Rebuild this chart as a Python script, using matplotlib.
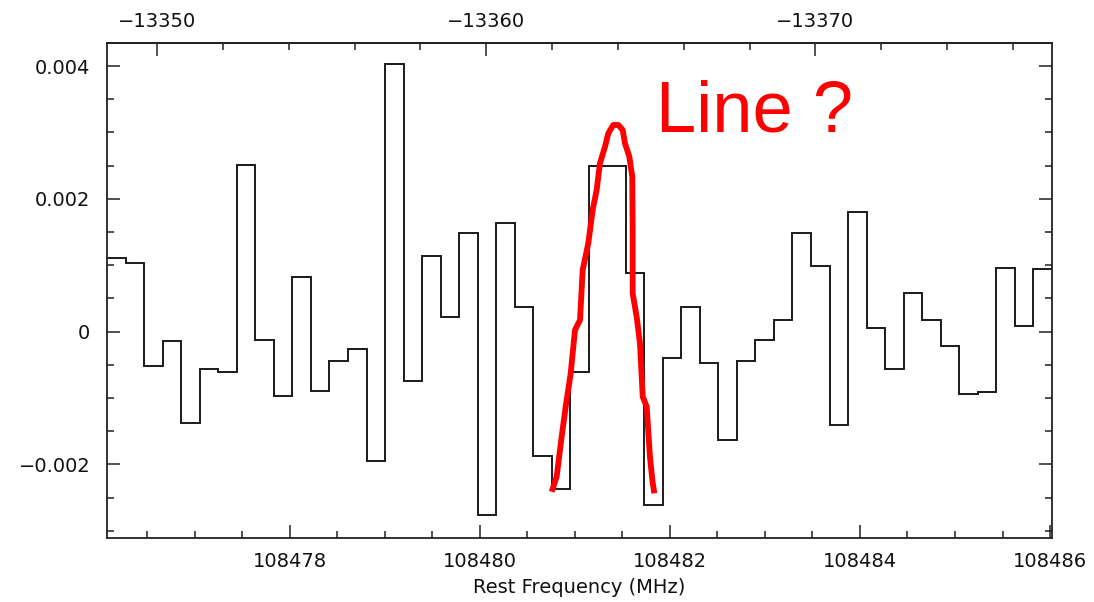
import numpy as np
import matplotlib
matplotlib.use("Agg")
import matplotlib.pyplot as plt
from matplotlib.ticker import MultipleLocator, FuncFormatter, FixedLocator

# ---- data ----
channel_freq = [108476.173, 108476.368, 108476.563, 108476.758, 108476.953,
                108477.148, 108477.343, 108477.538, 108477.733, 108477.928,
                108478.123, 108478.318, 108478.513, 108478.708, 108478.903,
                108479.098, 108479.293, 108479.487, 108479.682, 108479.877,
                108480.072, 108480.267, 108480.462, 108480.657, 108480.852,
                108481.047, 108481.242, 108481.437, 108481.632, 108481.827,
                108482.022, 108482.217, 108482.412, 108482.607, 108482.802,
                108482.997, 108483.192, 108483.387, 108483.582, 108483.777,
                108483.972, 108484.167, 108484.362, 108484.557, 108484.752,
                108484.947, 108485.142, 108485.337, 108485.532, 108485.727,
                108485.922]
channel_flux = [0.001114, 0.001039, -0.000517, -0.000145, -0.001380,
                -0.000566, -0.000611, 0.002515, -0.000125, -0.000964,
                0.000819, -0.000889, -0.000441, -0.000265, -0.001952,
                0.004032, -0.000738, 0.001140, 0.000226, 0.001486,
                -0.002765, 0.001637, 0.000377, -0.001872, -0.002369,
                -0.000611, 0.002495, 0.002495, 0.000889, -0.002610,
                -0.000401, 0.000377, -0.000467, -0.001631, -0.000441,
                -0.000125, 0.000176, 0.001486, 0.000989, -0.001410,
                0.001803, 0.000051, -0.000566, 0.000587, 0.000176,
                -0.000215, -0.000938, -0.000904, 0.000964, 0.000086,
                0.000944]

# hand-drawn red "line" sketch
sketch_freq = [480.755, 480.807, 480.860, 480.902, 480.955, 481.000, 481.053,
               481.081, 481.140, 481.186, 481.228, 481.263, 481.316, 481.351,
               481.403, 481.456, 481.502, 481.526, 481.572, 481.603, 481.607,
               481.607, 481.649, 481.684, 481.713, 481.755, 481.789, 481.814,
               481.835]
sketch_flux = [-0.002410, -0.002184, -0.001581, -0.001130, -0.000627, 0.000026,
               0.000176, 0.000929, 0.001331, 0.001833, 0.002134, 0.002536,
               0.002786, 0.002988, 0.003113, 0.003113, 0.003038, 0.002837,
               0.002636, 0.002334, 0.001532, 0.000578, 0.000226, -0.000175,
               -0.000979, -0.001130, -0.001883, -0.002233, -0.002434]
sketch_freq = [108000 + f for f in sketch_freq]

annotation = "Line ?"
x_label = "Rest Frequency (MHz)"

x_major_ticks = [108478, 108480, 108482, 108484, 108486]
y_major_ticks = [-0.002, 0.0, 0.002, 0.004]
top_major_ticks = [-13350, -13360, -13370]
top_minor_ticks = [-13348, -13352, -13354, -13356, -13358, -13362, -13364,
                   -13366, -13368, -13372, -13374, -13376]

# velocity (top axis) relation: v = v_ref - k*(f - f_ref)
f_ref = 108478.0
v_ref = -13354.033
k_vel = 2.8875

x_lim = (108476.074, 108486.021)
y_lim = (-0.003107, 0.004343)

# ---- figure ----
fig = plt.figure(figsize=(10.94, 6.02), dpi=100)
ax = fig.add_axes([107 / 1094, 1 - 538 / 602, 945 / 1094, (538 - 43.3) / 602])

c = np.asarray(channel_freq)
mids = (c[:-1] + c[1:]) / 2
w0 = c[1] - c[0]
w1 = c[-1] - c[-2]
edges = np.concatenate([[c[0] - w0 / 2], mids, [c[-1] + w1 / 2]])
ax.stairs(channel_flux, edges, baseline=None, color="#1a1a1a", linewidth=1.4)

ax.plot(sketch_freq, sketch_flux, color="#ff0000", linewidth=4.2,
        solid_capstyle="butt", solid_joinstyle="round")

ax.text(0.581, 0.8213, annotation, transform=ax.transAxes, color="#ff0000",
        fontsize=52, family="Liberation Sans", va="baseline", ha="left")

ax.set_xlim(*x_lim)
ax.set_ylim(*y_lim)

ax.xaxis.set_major_locator(FixedLocator(x_major_ticks))
ax.xaxis.set_minor_locator(MultipleLocator(0.5))
ax.yaxis.set_major_locator(FixedLocator(y_major_ticks))
ax.yaxis.set_minor_locator(MultipleLocator(0.0005))
ax.xaxis.set_major_formatter(FuncFormatter(lambda v, p: f"{v:.0f}"))


def yfmt(v, p):
    if abs(v) < 1e-12:
        return "0"
    s = f"{v:g}"
    return s.replace("-", "\u2212")


ax.yaxis.set_major_formatter(FuncFormatter(yfmt))

ax.tick_params(which="both", direction="in", top=False, right=True,
               bottom=True, left=True, width=1.1, color="#222222",
               labelcolor="#111111", labelsize=14)
ax.tick_params(axis="x", which="major", length=9.2, pad=10)
ax.tick_params(axis="y", which="major", length=9.2, pad=12)
ax.tick_params(which="minor", length=4.8)

for sp in ax.spines.values():
    sp.set_linewidth(1.3)
    sp.set_color("#222222")


def f2v(f):
    return v_ref - k_vel * (np.asarray(f) - f_ref)


def v2f(v):
    return f_ref - (np.asarray(v) - v_ref) / k_vel


sec = ax.secondary_xaxis("top", functions=(f2v, v2f))
sec.xaxis.set_major_locator(FixedLocator(top_major_ticks))
sec.xaxis.set_minor_locator(FixedLocator(top_minor_ticks))
sec.xaxis.set_major_formatter(FuncFormatter(lambda v, p: f"{v:.0f}".replace("-", "\u2212")))
sec.tick_params(which="both", direction="in", width=1.1, color="#222222",
                labelcolor="#111111", labelsize=14)
sec.tick_params(which="major", length=9.2, pad=9)
sec.tick_params(which="minor", length=4.8)
sec.spines["top"].set_linewidth(1.3)
sec.spines["top"].set_color("#222222")

ax.set_xlabel(x_label, fontsize=14, family="DejaVu Sans", color="#111111",
              labelpad=5)

fig.savefig("out.png", dpi=100)
